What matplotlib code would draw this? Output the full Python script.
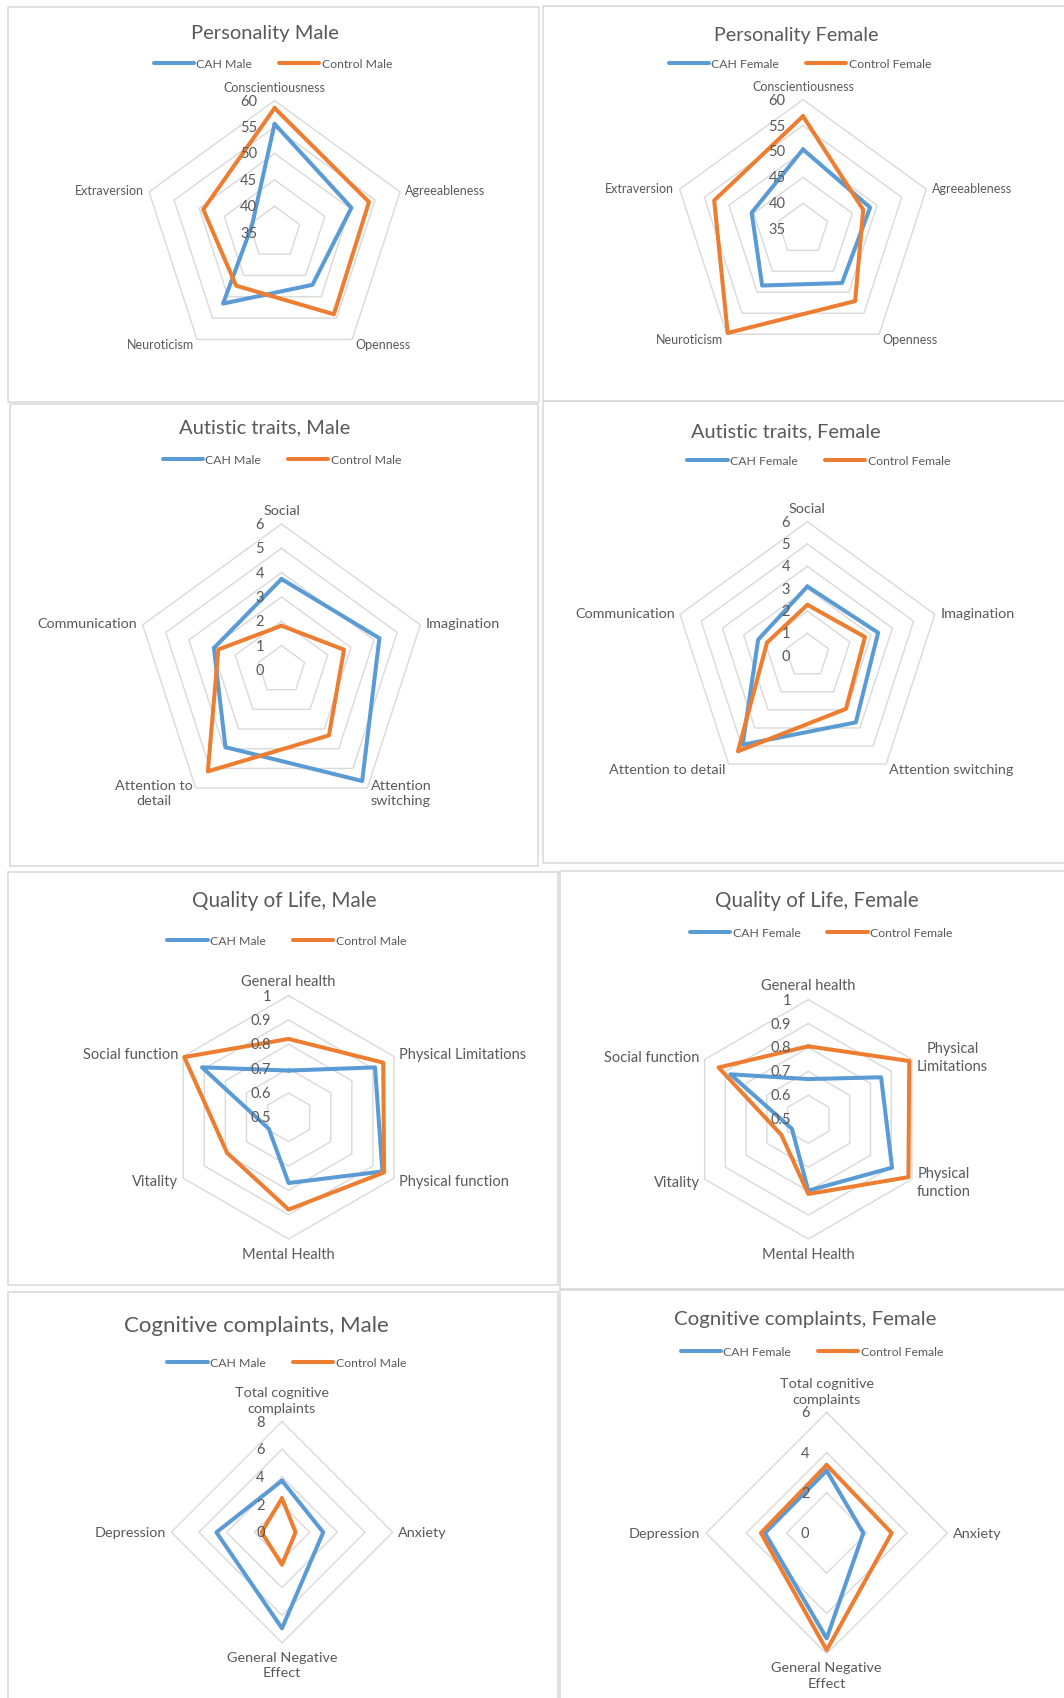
import numpy as np
import matplotlib
matplotlib.use('Agg')
import matplotlib.pyplot as plt
from matplotlib.patches import Rectangle

W, H = 1064, 1699
plt.rcParams['font.family'] = ['Lato', 'DejaVu Sans']

# ---- data ------------------------------------------------------------------
pers_axes = ['Conscientiousness', 'Agreeableness', 'Openness', 'Neuroticism', 'Extraversion']
cah_male_pers = [55.6, 50.3, 47.2, 51.6, 39.5]
ctrl_male_pers = [58.6, 53.8, 54.1, 47.4, 49.2]
cah_fem_pers = [50.4, 48.6, 47.8, 48.4, 45.4]
ctrl_fem_pers = [56.8, 47.2, 52.1, 59.7, 53.0]
pers_ticks = ['35', '40', '45', '50', '55', '60']

aq_axes_m = ['Social', 'Imagination', 'Attention\nswitching', 'Attention to\ndetail', 'Communication']
aq_axes_f = ['Social', 'Imagination', 'Attention switching', 'Attention to detail', 'Communication']
cah_male_aq = [3.74, 4.23, 5.64, 3.92, 2.92]
ctrl_male_aq = [1.82, 2.70, 3.32, 5.15, 2.73]
cah_fem_aq = [3.10, 3.33, 3.69, 4.93, 2.32]
ctrl_fem_aq = [2.28, 2.71, 2.94, 5.29, 1.90]
aq_ticks = ['0', '1', '2', '3', '4', '5', '6']

qol_axes_m = ['General health', 'Physical Limitations', 'Physical function',
              'Mental Health', 'Vitality', 'Social function']
qol_axes_f = ['General health', 'Physical\nLimitations', 'Physical\nfunction',
              'Mental Health', 'Vitality', 'Social function']
cah_male_qol = [0.692, 0.910, 0.945, 0.770, 0.594, 0.911]
ctrl_male_qol = [0.822, 0.949, 0.953, 0.879, 0.792, 0.995]
cah_fem_qol = [0.668, 0.851, 0.904, 0.798, 0.579, 0.876]
ctrl_fem_qol = [0.805, 0.987, 0.983, 0.812, 0.630, 0.933]
qol_ticks = ['0.5', '0.6', '0.7', '0.8', '0.9', '1']

cog_axes = ['Total cognitive\ncomplaints', 'Anxiety', 'General Negative\nEffect', 'Depression']
cah_male_cog = [3.73, 2.98, 6.94, 4.74]
ctrl_male_cog = [2.46, 0.98, 2.34, 1.48]
cah_fem_cog = [3.10, 1.82, 5.24, 3.07]
ctrl_fem_cog = [3.38, 3.23, 5.82, 3.27]
cog_ticks_m = ['0', '2', '4', '6', '8']
cog_ticks_f = ['0', '2', '4', '6']

BLUE = '#5B9BD5'
ORANGE = '#ED7D31'
GRID = '#D9D9D9'
TXT = '#595959'

fig = plt.figure(figsize=(W / 100, H / 100), dpi=100)


def box(l, t, r, b):
    fig.add_artist(Rectangle((l / W, 1 - b / H), (r - l) / W, (b - t) / H,
                             transform=fig.transFigure, fill=False, ec=GRID, lw=1.1))


def radar(cx, cy, R, cats, cah, ctrl, names, ticks, title, tpos, tsize, lpos, csize):
    ax = fig.add_axes([(cx - R) / W, 1 - (cy + R) / H, 2 * R / W, 2 * R / H], projection='polar')
    ax.set_theta_zero_location('N')
    ax.set_theta_direction(-1)
    tv = [float(t) for t in ticks]
    ax.set_ylim(tv[0], tv[-1])
    ax.grid(False)
    ax.set_xticks([])
    ax.set_yticks([])
    ax.spines['polar'].set_visible(False)
    ax.patch.set_alpha(0)

    n = len(cats)
    ang = np.arange(n) * 2 * np.pi / n
    angc = np.append(ang, ang[0])
    for v in tv[1:]:
        ax.plot(angc, [v] * (n + 1), color=GRID, lw=1.0, zorder=1, clip_on=False)

    l1, = ax.plot(angc, list(cah) + [cah[0]], color=BLUE, lw=2.9, zorder=3, clip_on=False,
                  solid_joinstyle='round', solid_capstyle='round')
    l2, = ax.plot(angc, list(ctrl) + [ctrl[0]], color=ORANGE, lw=2.9, zorder=4, clip_on=False,
                  solid_joinstyle='round', solid_capstyle='round')

    for t, v in zip(ticks, tv):
        ax.annotate(t, xy=(0, v), xytext=(-12.5, 0), textcoords='offset points',
                    ha='right', va='center', fontsize=10.5, color=TXT, zorder=5,
                    annotation_clip=False)

    for a, c in zip(ang, cats):
        sx, sy = np.sin(a), np.cos(a)
        if abs(sx) < 0.01:
            ha = 'center'
            va = 'bottom' if sy > 0 else 'top'
            d = 5.5
        else:
            ha = 'left' if sx > 0 else 'right'
            va = 'center'
            d = 4
        ax.annotate(c, xy=(a, tv[-1]), xytext=(d * sx, d * sy), textcoords='offset points',
                    ha=ha, va=va, multialignment='center', linespacing=1.35,
                    fontsize=csize, color=TXT, annotation_clip=False)

    fig.text(tpos[0] / W, 1 - tpos[1] / H, title, ha='center', va='center',
             fontsize=tsize, color=TXT)
    fig.legend([l1, l2], names, loc='center', bbox_to_anchor=(lpos[0] / W, 1 - lpos[1] / H),
               ncol=2, frameon=False, fontsize=8.8, labelcolor=TXT, handlelength=3.3,
               handletextpad=0.2, columnspacing=2.2, borderpad=0, borderaxespad=0)


# panel frames
box(7.6, 8.3, 539.4, 402.7)
box(543, 7.3, 1075, 401.7)
box(9.7, 405, 538, 866.7)
box(543, 402, 1075, 864)
box(7.9, 872.7, 557.9, 1286)
box(559.5, 871.7, 1075, 1290)
box(7.9, 1293.3, 557.9, 1710)
box(559.5, 1290.7, 1075, 1710)

radar(274.6, 233.7, 132, pers_axes, cah_male_pers, ctrl_male_pers, ['CAH Male', 'Control Male'],
      pers_ticks, 'Personality Male', (265, 33), 14.5, (273, 65), 9)
radar(803, 230.3, 129.7, pers_axes, cah_fem_pers, ctrl_fem_pers, ['CAH Female', 'Control Female'],
      pers_ticks, 'Personality Female', (796, 35.7), 14.2, (800, 65), 9)
radar(281.5, 671, 146, aq_axes_m, cah_male_aq, ctrl_male_aq, ['CAH Male', 'Control Male'],
      aq_ticks, 'Autistic traits, Male', (265, 427.7), 14.5, (282, 460.7), 10.4)
radar(807.4, 656.7, 134, aq_axes_f, cah_fem_aq, ctrl_fem_aq, ['CAH Female', 'Control Female'],
      aq_ticks, 'Autistic traits, Female', (785.7, 431.7), 14.4, (818.6, 461.7), 10.4)
radar(288.6, 1118.3, 121.7, qol_axes_m, cah_male_qol, ctrl_male_qol, ['CAH Male', 'Control Male'],
      qol_ticks, 'Quality of Life, Male', (284, 901), 14.9, (286.6, 941.7), 10.5)
radar(808.3, 1120.3, 119.7, qol_axes_f, cah_fem_qol, ctrl_fem_qol, ['CAH Female', 'Control Female'],
      qol_ticks, 'Quality of Life, Female', (817.3, 901), 14.8, (821.3, 934), 10.5)
radar(282, 1533.3, 110.7, cog_axes, cah_male_cog, ctrl_male_cog, ['CAH Male', 'Control Male'],
      cog_ticks_m, 'Cognitive complaints, Male', (256.4, 1325.7), 16, (286.8, 1363.3), 10.4)
radar(826.7, 1534, 120.7, cog_axes, cah_fem_cog, ctrl_fem_cog, ['CAH Female', 'Control Female'],
      cog_ticks_f, 'Cognitive complaints, Female', (805, 1319.3), 14.7, (812, 1352.3), 10.4)

fig.savefig('out.png', dpi=100)
